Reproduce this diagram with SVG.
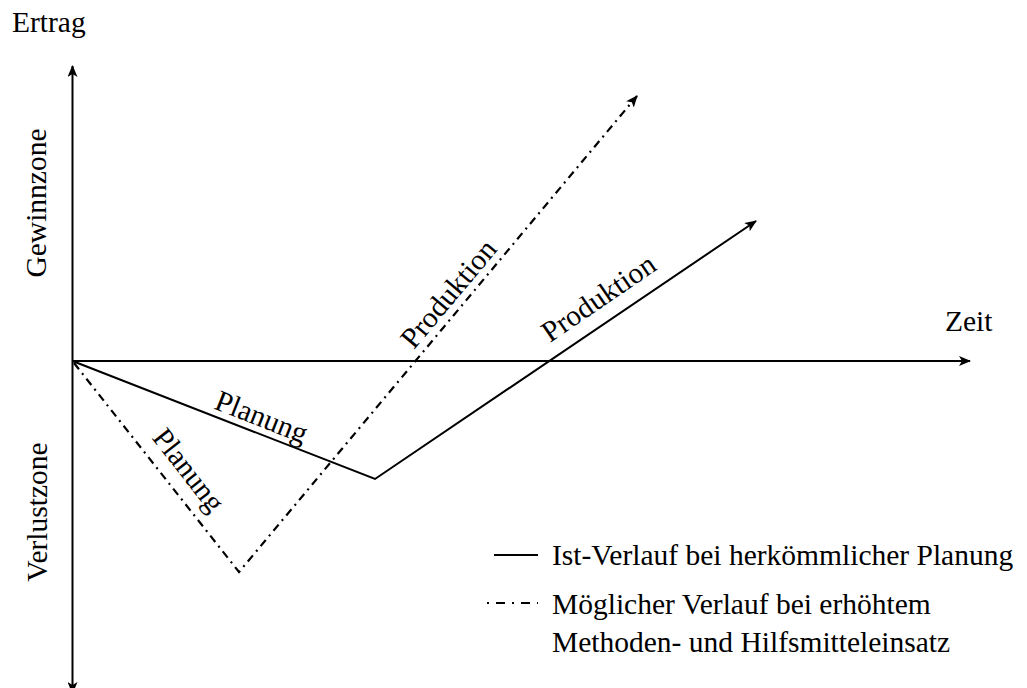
<svg xmlns="http://www.w3.org/2000/svg" width="1027" height="688" viewBox="0 0 1027 688">
<style>
text{font-family:"Liberation Serif","Times New Roman",serif;font-size:29.5px;fill:#000}
.ln{fill:none;stroke:#000;stroke-width:2}
.dd{fill:none;stroke:#000;stroke-width:2.2;stroke-dasharray:8 5 2 5}
</style>
<defs>
<marker id="a2" viewBox="0 0 12 10" refX="11" refY="5" markerWidth="12" markerHeight="10" orient="auto" markerUnits="userSpaceOnUse">
<path d="M0,0 L12,5 L0,10 L3,5 z" fill="#000"/>
</marker>
</defs>
<g id="axes">
<line class="ln" x1="72.5" y1="361" x2="72.5" y2="66" marker-end="url(#a2)"/>
<line class="ln" x1="72.5" y1="361" x2="72.5" y2="693" marker-end="url(#a2)"/>
<line class="ln" x1="72.5" y1="361" x2="970" y2="361" marker-end="url(#a2)"/>
</g>
<g id="axis-labels" font-family="Liberation Serif, Times New Roman, serif">
<text x="12" y="32">Ertrag</text>
<text x="945" y="331">Zeit</text>
<text transform="translate(46,203) rotate(-90)" text-anchor="middle">Gewinnzone</text>
<text transform="translate(47,512) rotate(-90)" text-anchor="middle">Verlustzone</text>
</g>
<g id="connectors">
<polyline class="ln" points="72.5,361 375,479 756,221" marker-end="url(#a2)"/>
<polyline class="dd" points="74,363 239,572 637,96" marker-end="url(#a2)"/>
</g>
<g id="curve-labels" font-family="Liberation Serif, Times New Roman, serif">
<text transform="translate(258,426) rotate(21.6)" text-anchor="middle">Planung</text>
<text transform="translate(181,476) rotate(52)" text-anchor="middle">Planung</text>
<text transform="translate(456,300) rotate(-50)" text-anchor="middle">Produktion</text>
<text transform="translate(604,306) rotate(-34.4)" text-anchor="middle">Produktion</text>
</g>
<g id="legend" font-family="Liberation Serif, Times New Roman, serif">
<line class="ln" x1="494" y1="555" x2="538" y2="555"/>
<line class="ln" x1="487" y1="603" x2="538" y2="603" style="stroke-width:2.2;stroke-dasharray:2 7 9 7"/>
<text x="552" y="565">Ist-Verlauf bei herkömmlicher Planung</text>
<text x="552" y="614">Möglicher Verlauf bei erhöhtem</text>
<text x="552" y="652">Methoden- und Hilfsmitteleinsatz</text>
</g>
</svg>
